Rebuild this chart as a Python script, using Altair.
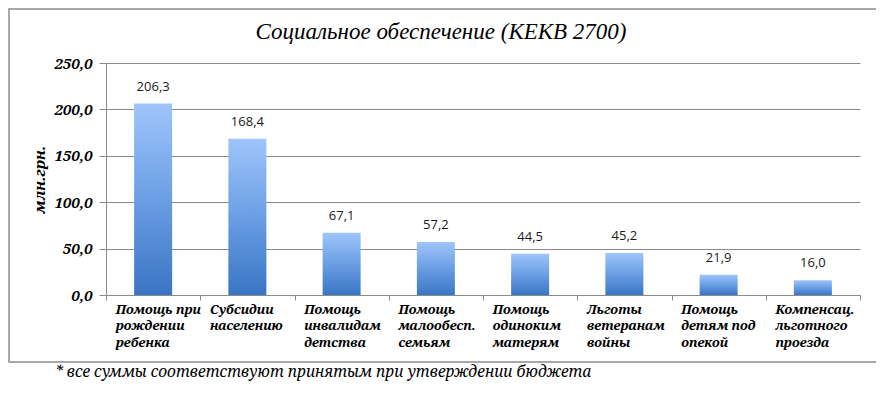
import altair as alt
import pandas as pd

categories = [
    "Помощь при\nрождении\nребенка",
    "Субсидии\nнаселению",
    "Помощь\nинвалидам\nдетства",
    "Помощь\nмалообесп.\nсемьям",
    "Помощь\nодиноким\nматерям",
    "Льготы\nветеранам\nвойны",
    "Помощь\nдетям под\nопекой",
    "Компенсац.\nльготного\nпроезда",
]
values = [206.3, 168.4, 67.1, 57.2, 44.5, 45.2, 21.9, 16.0]
y_ticks = [0, 50, 100, 150, 200, 250]

title_text = "Социальное обеспечение (КЕКВ 2700)"
y_title = "млн.грн."
footnote = "* все суммы соответствуют принятым при утверждении бюджета"

df = pd.DataFrame({"cat": categories, "value": values})

W, H = 754, 232
SERIF = "Noto Serif"
TITLE_FONT = "Liberation Serif"
GRID = "#8a8a8a"

x_enc = alt.X(
    "cat:N", sort=categories, title=None,
    scale=alt.Scale(paddingInner=0, paddingOuter=0),
    axis=alt.Axis(
        labelExpr="split(datum.label, '\\n')",
        labelAngle=0, labelAlign="left", labelBaseline="top",
        labelOffset=-38, labelPadding=3, labelLineHeight=16.5,
        labelFont=SERIF, labelFontStyle="italic", labelFontWeight="bold",
        labelFontSize=13, labelColor="#000000",
        tickBand="extent", tickSize=5, tickColor=GRID,
        domainColor=GRID, grid=False,
    ),
)
y_enc = alt.Y(
    "value:Q", title=y_title,
    scale=alt.Scale(domain=[0, 250], nice=False),
    axis=alt.Axis(
        values=y_ticks,
        labelExpr="replace(format(datum.value, '.1f'), '.', ',')",
        labelFont=SERIF, labelFontStyle="italic", labelFontWeight="bold",
        labelFontSize=15, labelColor="#000000", labelPadding=7,
        tickSize=7, tickColor=GRID, domainColor=GRID,
        gridColor=GRID, gridWidth=1,
        titleFont=SERIF, titleFontStyle="italic", titleFontWeight="bold",
        titleFontSize=15, titleColor="#000000", titlePadding=6,
    ),
)

gradient = alt.LinearGradient(
    gradient="linear",
    stops=[
        alt.GradientStop(color="#3a75c4", offset=0),
        alt.GradientStop(color="#6a9ee4", offset=0.5),
        alt.GradientStop(color="#9fc5fb", offset=1),
    ],
    x1=0, x2=0, y1=1, y2=0,
)

bars = alt.Chart(df).mark_bar(size=38, color=gradient).encode(x=x_enc, y=y_enc)

labels = alt.Chart(df).transform_calculate(
    lbl="replace(format(datum.value, '.1f'), '.', ',')"
).mark_text(
    dy=-10, font="Open Sans", fontSize=13, color="#1a1a1a", baseline="bottom"
).encode(
    x=alt.X("cat:N", sort=categories),
    y="value:Q",
    text="lbl:N",
)

one = alt.Data(values=[{}])

border = alt.Chart(one).mark_rect(
    fill=None, stroke="#8c8c8c", strokeWidth=1.5
).encode(
    x=alt.value(-97), x2=alt.value(773), y=alt.value(-54), y2=alt.value(299)
)

title = alt.Chart(one).mark_text(
    text=title_text, font=TITLE_FONT, fontStyle="italic", fontSize=23,
    align="center", baseline="middle", color="#000000"
).encode(x=alt.value(335), y=alt.value(-31))

foot = alt.Chart(one).mark_text(
    text=footnote, font=SERIF, fontStyle="italic", fontSize=15.5,
    align="left", baseline="alphabetic", color="#000000"
).encode(x=alt.value(-51), y=alt.value(314))

chart = alt.layer(border, bars, labels, title, foot).properties(
    width=W, height=H,
    autosize=alt.AutoSizeParams(type="none"),
    padding={"left": 98, "top": 55, "right": 16, "bottom": 98},
    background="#ffffff",
).configure_view(stroke=None)

chart.save("out.html", embed_options={"renderer": "svg", "actions": False})
